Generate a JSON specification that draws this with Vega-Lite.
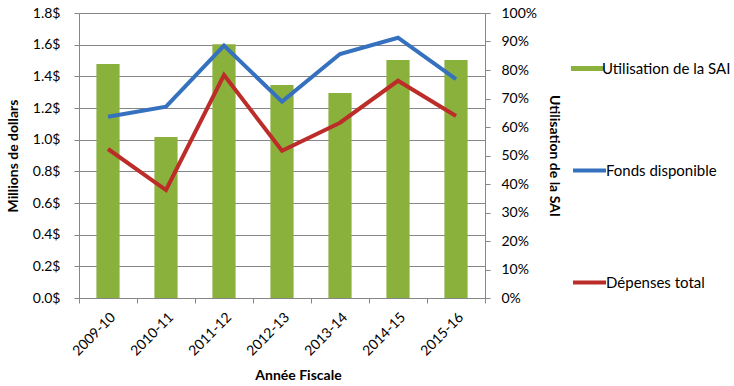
{
  "$schema": "https://vega.github.io/schema/vega-lite/v6.json",
  "autosize": {"type": "none"},
  "padding": {"left": 79, "top": 13, "right": 249, "bottom": 88},
  "width": 406,
  "height": 285,
  "background": "white",
  "config": {
    "view": {"stroke": null},
    "font": "Lato",
    "axis": {"labelFont": "Lato", "labelFontSize": 14, "labelColor": "#000", "titleFont": "Lato", "titleFontSize": 14, "titleFontWeight": "bold", "titleColor": "#000", "domainColor": "#868686", "tickColor": "#868686", "gridColor": "#868686"},
    "legend": {"labelFont": "Lato", "labelFontSize": 15, "labelColor": "#000"}
  },
  "data": {
    "values": [
      {"annee": "2009-10", "util": 0.821, "fonds": 1.145, "depenses": 0.941},
      {"annee": "2010-11", "util": 0.565, "fonds": 1.208, "depenses": 0.682},
      {"annee": "2011-12", "util": 0.89, "fonds": 1.594, "depenses": 1.408},
      {"annee": "2012-13", "util": 0.747, "fonds": 1.24, "depenses": 0.93},
      {"annee": "2013-14", "util": 0.719, "fonds": 1.541, "depenses": 1.107},
      {"annee": "2014-15", "util": 0.835, "fonds": 1.644, "depenses": 1.372},
      {"annee": "2015-16", "util": 0.835, "fonds": 1.383, "depenses": 1.149}
    ]
  },
  "encoding": {
    "x": {
      "field": "annee", "type": "nominal", "sort": null,
      "scale": {"paddingInner": 0, "paddingOuter": 0},
      "axis": {"title": "Année Fiscale", "labelAngle": -45, "labelAlign": "right", "labelBaseline": "top", "tickBand": "extent", "tickSize": 5, "labelPadding": 7, "titlePadding": 10, "titleX": 219, "domainColor": "#868686"}
    }
  },
  "layer": [
    {
      "mark": {"type": "bar", "width": {"band": 0.4}},
      "encoding": {
        "y": {"field": "util", "type": "quantitative", "scale": {"domain": [0, 1]},
          "axis": {"orient": "right", "title": "Utilisation de la SAI", "format": ".0%", "tickCount": 10, "grid": false, "tickSize": 5, "labelPadding": 11, "titlePadding": 10, "titleAngle": 90}},
        "fill": {"datum": "Utilisation de la SAI", "type": "nominal",
          "scale": {"range": ["#8BB13D"]},
          "legend": {"title": null, "orient": "none", "legendX": 492, "legendY": 39, "padding": 0, "symbolType": "M-1,-0.15H1V0.15H-1Z", "symbolSize": 1089, "symbolStrokeWidth": 0, "labelOffset": -2}}
      }
    },
    {
      "transform": [{"fold": ["fonds", "depenses"], "as": ["serie", "valeur"]}],
      "mark": {"type": "line", "strokeWidth": 4},
      "encoding": {
        "y": {"field": "valeur", "type": "quantitative", "scale": {"domain": [0, 1.8]},
          "axis": {"orient": "left", "title": "Millions de dollars", "labelExpr": "format(datum.value, '.1f') + '$'", "values": [0, 0.2, 0.4, 0.6, 0.8, 1.0, 1.2, 1.4, 1.6, 1.8], "grid": true, "tickSize": 5, "labelPadding": 14, "titlePadding": 12}},
        "stroke": {"field": "serie", "type": "nominal",
          "scale": {"domain": ["fonds", "depenses"], "range": ["#3571BE", "#BC2D29"]},
          "legend": {"title": null, "orient": "none", "legendX": 492, "legendY": 139, "padding": 0, "symbolType": "stroke", "symbolSize": 1089, "symbolStrokeWidth": 4, "rowPadding": 85, "labelOffset": -2,
            "labelExpr": "datum.value == 'fonds' ? 'Fonds disponible' : 'Dépenses total'"}}
      }
    }
  ],
  "resolve": {"scale": {"y": "independent"}}
}
